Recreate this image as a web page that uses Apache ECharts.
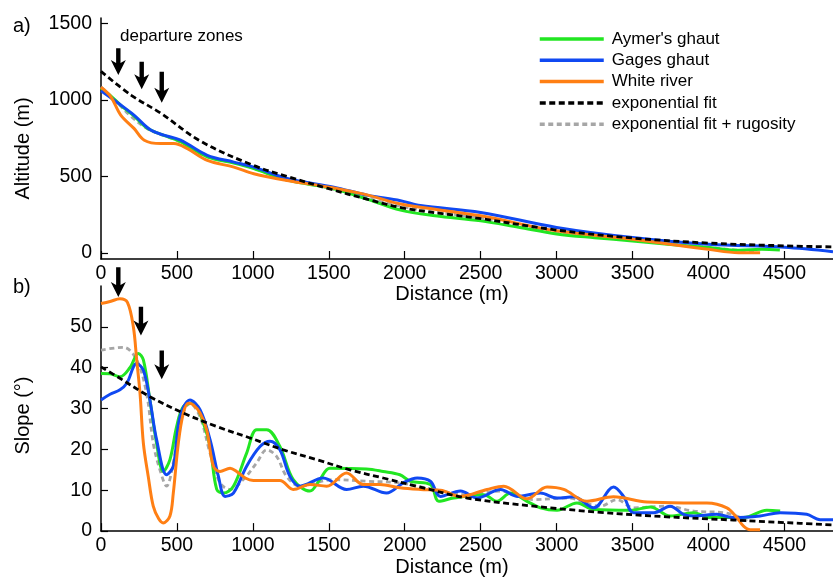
<!DOCTYPE html>
<html>
<head>
<meta charset="utf-8">
<script src="https://cdn.jsdelivr.net/npm/echarts@6/dist/echarts.min.js"></script>
<style>html,body{margin:0;padding:0;background:#fff}#c{width:833px;height:578px}</style>
</head>
<body>
<div id="c"></div>
<script>
// ---------- data ----------
var xTicks = [0, 500, 1000, 1500, 2000, 2500, 3000, 3500, 4000, 4500];
var altTicks = [0, 500, 1000, 1500];
var slopeTicks = [0, 10, 20, 30, 40, 50];

// Altitude (m) vs distance (m)
var aymerAlt = [[0,1075],[60,1030],[130,965],[217,895],[300,818],[414,768],[524,728],[700,628],[874,588],[1006,552],[1226,476],[1533,420],[1752,352],[1972,280],[2200,243],[2500,210],[2750,168],[3000,125],[3250,100],[3500,79],[3750,56],[4000,36],[4200,18],[4350,24],[4470,20]];
var gagesAlt = [[0,1060],[130,967],[217,901],[327,803],[414,770],[524,737],[700,638],[874,594],[1006,561],[1226,487],[1533,430],[1752,378],[1972,342],[2103,310],[2500,265],[3000,167],[3500,101],[4000,57],[4500,38],[4820,9]];
var whiteAlt = [[0,1083],[64,1022],[130,901],[217,814],[285,737],[393,715],[480,715],[569,682],[700,605],[875,561],[1006,518],[1226,474],[1533,425],[1752,380],[1972,320],[2500,243],[3000,145],[3500,90],[4000,24],[4200,2],[4340,2]];
var expAlt = [[0,1186],[200,1030],[394,913],[656,730],[1004,572],[1226,500],[1500,420],[1750,352],[2000,292],[2500,225],[3000,150],[3500,98],[4000,65],[4500,47],[4820,40]];
var rugAlt = [[0,1085],[100,990],[200,890],[300,815],[400,772],[500,735],[700,630],[900,585],[1000,555],[1226,480],[1500,425],[2000,300],[2500,228],[3000,140],[3500,85],[4000,35],[4300,10]];

// Slope (deg) vs distance (m)
var aymerSlope = [[0,38.6],[60,38.5],[125,37.8],[190,40],[246,43.5],[279,41.9],[322,32.1],[366,21.5],[410,14.6],[454,17.5],[498,25.6],[542,30.5],[608,31.3],[674,26.4],[718,20.7],[762,10.2],[806,9.3],[872,11],[959,19.1],[1025,24.8],[1091,24.8],[1178,20.7],[1266,12.6],[1376,9.8],[1441,12.6],[1507,15.4],[1748,15.2],[1858,14.6],[1968,13.8],[2038,12.2],[2169,11.4],[2224,7.3],[2323,8.1],[2520,8.9],[2608,7.3],[2696,9.3],[2805,7.3],[2893,5.7],[3003,5.1],[3134,6.9],[3244,5.3],[3485,5.1],[3617,5.9],[3748,3.7],[3902,4.5],[4011,3.3],[4231,3.3],[4384,5.1],[4472,4.9]];
var gagesSlope = [[0,32.1],[60,33.5],[125,34.6],[170,36.2],[235,41],[279,39.4],[322,32.1],[366,22.4],[432,13.8],[476,15.9],[520,28],[586,32.1],[652,29.7],[718,22.4],[773,13.4],[817,8.5],[872,9.3],[959,15.9],[1047,20.7],[1113,22],[1178,19.9],[1244,13.4],[1310,11],[1463,13],[1617,10.2],[1727,11],[1880,9.3],[1990,11.8],[2082,13],[2169,12.2],[2235,8.5],[2367,9.8],[2476,8.1],[2630,10.2],[2740,8.5],[2893,9.3],[3003,8.1],[3112,8.4],[3244,5.7],[3375,10.8],[3441,8.5],[3507,4.5],[3639,4.5],[3748,6.1],[3836,4.1],[3902,3.7],[4055,4.1],[4165,3.3],[4340,3.7],[4472,4.5],[4647,4.1],[4735,2.8],[4820,2.8]];
var whiteSlope = [[0,55.7],[60,56.2],[125,56.9],[174,56],[213,50],[235,41.9],[257,33.7],[279,21.5],[311,13.4],[344,6.1],[380,3],[410,2],[454,3.7],[476,9.3],[509,21.5],[542,28.9],[575,31.3],[608,30.9],[652,28.9],[696,24.8],[740,15.9],[784,14.6],[850,15.4],[893,14.6],[950,13],[1003,12.4],[1178,12.4],[1266,10.2],[1376,11.4],[1486,11],[1617,14.2],[1727,11.4],[1836,11.4],[1968,10.6],[2104,10.2],[2235,10],[2367,8.5],[2542,10.2],[2652,11],[2805,7.9],[2937,10.8],[3047,10.2],[3200,7.3],[3375,8.4],[3595,7.1],[3836,6.9],[3990,6.9],[4121,5.7],[4187,3.3],[4231,1.2],[4275,0.3],[4340,0.3]];
var expSlope = [[0,40.2],[125,37.4],[322,32.9],[542,28.9],[762,25.6],[981,22.8],[1200,19.9],[1420,17.5],[1639,15],[1858,13],[2077,11],[2411,8.1],[2849,6.1],[3288,4.6],[3726,3.5],[4165,2.7],[4603,1.9],[4820,1.5]];
var rugSlope = [[0,44.3],[147,45],[235,41.9],[300,33.7],[344,21.5],[388,15],[432,11],[476,16.7],[520,26.4],[586,31.3],[652,28],[718,19.1],[784,11.8],[850,10.2],[937,12.6],[1025,16.7],[1091,19.9],[1156,18.3],[1222,13.4],[1310,11],[1529,12.6],[1748,12.2],[1968,11.8],[2191,10.2],[2411,8.9],[2630,9.8],[2849,7.7],[3069,8.1],[3288,6.1],[3397,7.7],[3507,5.7],[3726,6.1],[3902,4.9],[4099,4.5],[4200,3.5],[4275,2]];

// departure-zone arrows: [distance, start value, tip value]
var arrowsAlt = [[114,1337,1163],[268,1249,1069],[400,1184,982]];
var arrowsSlope = [[114,64.6,57.3],[263,54.9,47.9],[400,44.2,37.2]];

var names = ["Aymer's ghaut", "Gages ghaut", "White river", "exponential fit", "exponential fit + rugosity"];
var colors = ['#22e622', '#1049f2', '#ff7f14', '#000000', '#a6a6a6'];

// ---------- chart ----------
var FONT = '"Liberation Sans", Arial, sans-serif';
var chart = echarts.init(document.getElementById('c'), null, {renderer: 'canvas'});
function plain(v) { return String(v); }

function xAxisCfg(gi, gap) {
  return {
    type: 'value', gridIndex: gi, min: 0, max: 4820,
    name: 'Distance (m)', nameLocation: 'middle', nameGap: gap,
    nameTextStyle: {fontSize: 20, color: '#000', fontFamily: FONT, padding: [0, 30, 0, 0]},
    axisLine: {show: true, onZero: false, lineStyle: {color: '#000', width: 1.5}},
    axisTick: {show: true, inside: true, length: 8, customValues: xTicks, lineStyle: {color: '#000', width: 1.2}},
    axisLabel: {customValues: xTicks, formatter: plain, fontSize: 19.5, color: '#000', fontFamily: FONT, margin: 5},
    splitLine: {show: false}
  };
}
function yAxisCfg(gi, name, min, max, ticks, pad) {
  return {
    type: 'value', gridIndex: gi, min: min, max: max,
    name: name, nameLocation: 'middle', nameGap: 68,
    nameTextStyle: {fontSize: 20, color: '#000', fontFamily: FONT, padding: [0, pad, 0, 0]},
    axisLine: {show: true, onZero: false, lineStyle: {color: '#000', width: 1.5}},
    axisTick: {show: true, inside: true, length: 7, customValues: ticks, lineStyle: {color: '#000', width: 1.2}},
    axisLabel: {customValues: ticks, formatter: plain, fontSize: 19.5, color: '#000', fontFamily: FONT, margin: 9},
    splitLine: {show: false}
  };
}
function lineSeries(i, data, axis) {
  var dashed = i >= 3;
  return {
    type: 'line', name: names[i], data: data,
    xAxisIndex: axis, yAxisIndex: axis,
    smooth: 0.35, showSymbol: false, symbol: 'none',
    lineStyle: {color: colors[i], width: dashed ? 2.8 : 3, type: dashed ? (i === 3 ? [6, 3.5] : [5, 3.5]) : 'solid'},
    itemStyle: {color: colors[i]},
    z: [3, 4, 5, 6, 2][i],
    silent: true, animation: false
  };
}
function arrowSeries(data, axis) {
  return {
    type: 'custom', xAxisIndex: axis, yAxisIndex: axis, clip: false, silent: true, z: 10,
    data: data,
    renderItem: function (params, api) {
      var top = api.coord([api.value(0), api.value(1)]);
      var tip = api.coord([api.value(0), api.value(2)]);
      var x = tip[0], hl = 15, hw = 7.5, sw = 2.2, notch = 3;
      return {
        type: 'polygon',
        shape: {points: [
          [x - sw, top[1]], [x - sw, tip[1] - hl + notch], [x - hw, tip[1] - hl],
          [x, tip[1]], [x + hw, tip[1] - hl], [x + sw, tip[1] - hl + notch], [x + sw, top[1]]
        ]},
        style: {fill: '#000'}
      };
    }
  };
}

var series = [];
[rugAlt, aymerAlt, gagesAlt, whiteAlt, expAlt].forEach(function (d, k) {
  var idx = [4, 0, 1, 2, 3][k];
  series.push(lineSeries(idx, d, 0));
});
[rugSlope, aymerSlope, gagesSlope, whiteSlope, expSlope].forEach(function (d, k) {
  var idx = [4, 0, 1, 2, 3][k];
  series.push(lineSeries(idx, d, 1));
});
series.push(arrowSeries(arrowsAlt, 0));
series.push(arrowSeries(arrowsSlope, 1));

chart.setOption({
  animation: false,
  backgroundColor: '#fff',
  textStyle: {fontFamily: FONT},
  grid: [
    {left: 101, right: 0, top: 18, height: 241},
    {left: 101, right: 0, top: 286, height: 246}
  ],
  xAxis: [xAxisCfg(0, 22), xAxisCfg(1, 25)],
  yAxis: [
    yAxisCfg(0, 'Altitude (m)', -39, 1535, altTicks, 20),
    yAxisCfg(1, 'Slope (°)', 0, 60, slopeTicks, 14)
  ],
  legend: {
    data: names, orient: 'vertical', left: 538, top: 30.5, padding: 0,
    itemWidth: 64, itemHeight: 14, itemGap: 4.3,
    itemStyle: {opacity: 0},
    lineStyle: {width: 3.5},
    textStyle: {fontSize: 17, color: '#000', fontFamily: FONT, padding: [0, 0, 0, 3]},
    selectedMode: false
  },
  graphic: [
    {type: 'text', left: 13, top: 16, style: {text: 'a)', font: '20px ' + FONT, fill: '#000'}},
    {type: 'text', left: 13, top: 277, style: {text: 'b)', font: '20px ' + FONT, fill: '#000'}},
    {type: 'text', left: 120, top: 28, style: {text: 'departure zones', font: '17px ' + FONT, fill: '#000'}}
  ],
  series: series
});
</script>
</body>
</html>
